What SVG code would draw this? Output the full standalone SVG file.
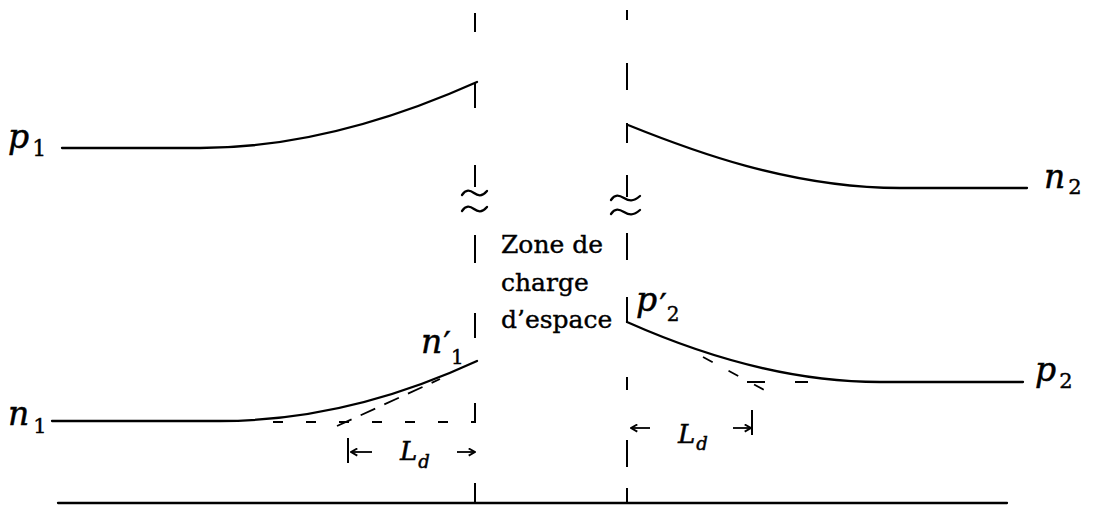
<svg xmlns="http://www.w3.org/2000/svg" width="1093" height="505" viewBox="0 0 1093 505">
<style>
.c{fill:none;stroke:#000;stroke-width:2.3;stroke-linecap:round}
.v{fill:none;stroke:#000;stroke-width:2}
.d{fill:none;stroke:#000;stroke-width:1.8}
.a{fill:none;stroke:#000;stroke-width:1.8}
.m{font-family:"DejaVu Serif","Liberation Serif",serif;font-style:italic;fill:#000;stroke:#000;stroke-width:0.5}
.s{font-style:normal;stroke-width:0.4}
.t{font-family:"DejaVu Serif","Liberation Serif",serif;font-size:25px;fill:#000;stroke:#000;stroke-width:0.4}
</style>
<defs>
<marker id="ah" viewBox="0 0 10 10" refX="9" refY="5" markerWidth="9" markerHeight="9" markerUnits="userSpaceOnUse" orient="auto">
<path d="M2 1 L9 5 L2 9" fill="none" stroke="#000" stroke-width="2"/>
</marker>
</defs>
<rect width="1093" height="505" fill="#fff"/>
<g id="junction-lines">
<path class="v" d="M475 13V32 M475 82V108 M475 165V187 M475 235V263 M475 313V338 M475 403V423 M475 483V503"/>
<path class="v" d="M627 10V20 M627 63V90 M627 123V143 M627 175V197 M627 233V260 M627 297V323 M627 377V390 M627 440V467 M627 488V503"/>
<path class="c" d="M462 195 C466 189,470 190,474 193 S482 197,487 191"/>
<path class="c" d="M462 211 C466 205,470 206,474 209 S482 213,487 207"/>
<path class="c" d="M611 200 C615 194,619 195,624 198 S633 202,640 196"/>
<path class="c" d="M611 214 C615 208,619 209,624 212 S633 216,640 210"/>
</g>
<g id="axis">
<path class="c" d="M58 503H1007"/>
</g>
<g id="curves">
<path id="curve-p1" class="c" d="M62 148 L200 148 C310 148,410 112,477 82"/>
<path id="curve-n2" class="c" d="M628 125 C690 150,790 188,900 188 L1027 188"/>
<path id="curve-n1" class="c" d="M52 421 L220 421 C320 421,410 392,477 361"/>
<path id="curve-p2" class="c" d="M627 322 C690 350,780 382,880 382 L1023 382"/>
</g>
<g id="construction">
<path class="d" d="M273 422H476" stroke-dasharray="10 23"/>
<path class="d" d="M337 426L440 379" stroke-dasharray="16 10"/>
<path class="d" d="M703 357L768 392" stroke-dasharray="11 18"/>
<path class="d" d="M747 382H765 M795 382H808"/>
</g>
<g id="dimension-left">
<path class="v" d="M348 438V463"/>
<path class="a" d="M372 452H351" marker-end="url(#ah)"/>
<path class="a" d="M457 452H475" marker-end="url(#ah)"/>
<text class="m" x="400" y="460" font-size="26">L<tspan font-size="18" dx="1" dy="8">d</tspan></text>
</g>
<g id="dimension-right">
<path class="v" d="M752 410V435"/>
<path class="a" d="M650 428H631" marker-end="url(#ah)"/>
<path class="a" d="M733 428H751" marker-end="url(#ah)"/>
<text class="m" x="678" y="443" font-size="26">L<tspan font-size="18" dx="1" dy="7">d</tspan></text>
</g>
<g id="labels">
<text class="m" x="8" y="148" font-size="33">p<tspan class="s" font-size="22" dx="3" dy="8">1</tspan></text>
<text class="m" x="1044" y="188" font-size="33">n<tspan class="s" font-size="21" dx="3" dy="6">2</tspan></text>
<text class="m" x="1035" y="381" font-size="33">p<tspan class="s" font-size="21" dx="3" dy="7">2</tspan></text>
<text class="m" x="8" y="425" font-size="33">n<tspan class="s" font-size="21" dx="4" dy="8">1</tspan></text>
<text class="m" x="421" y="353" font-size="33">n<tspan class="s" font-size="34" dx="1" dy="3">′</tspan><tspan class="s" font-size="20" dx="0" dy="8">1</tspan></text>
<text class="m" x="636" y="311" font-size="33">p<tspan class="s" font-size="34" dx="2" dy="7">′</tspan><tspan class="s" font-size="20" dx="0" dy="3">2</tspan></text>
</g>
<g id="zone-label">
<text class="t" x="501" y="253">Zone de</text>
<text class="t" x="501" y="291">charge</text>
<text class="t" x="501" y="328">d’espace</text>
</g>
</svg>
